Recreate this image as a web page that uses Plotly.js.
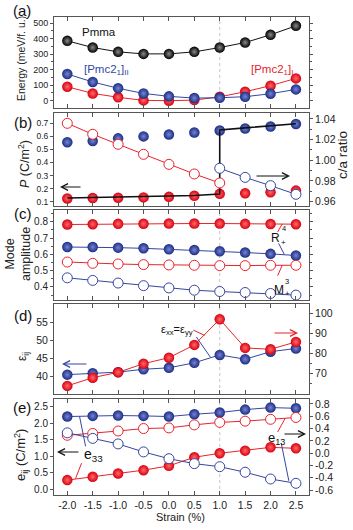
<!DOCTYPE html>
<html><head><meta charset="utf-8">
<script src="https://cdn.plot.ly/plotly-3.0.1.min.js"></script>
<style>html,body{margin:0;padding:0;background:#fff}#chart{width:353px;height:530px}</style>
</head><body><div id="chart"></div>
<script>
// ---------- data ----------
const strain = [-2, -1.5, -1, -0.5, 0, 0.5, 1, 1.5, 2, 2.5];
const strainTickText = ['-2.0','-1.5','-1.0','-0.5','0.0','0.5','1.0','1.5','2.0','2.5'];

// (a) energies (meV/f.u.)
const energyPmma  = [386, 343, 315, 302, 302, 315, 343, 375, 425, 483];
const energyPmcII = [172, 121, 80, 47, 28, 17, 19, 26, 45, 73];
const energyPmcI  = [90, 47, 22, 2, 0, 4, 25, 58, 97, 144];

// (b) polarization (left) and c/a ratio (right)
const polBlue = [0.555, 0.565, 0.585, 0.600, 0.615, 0.630, 0.645, 0.660, 0.675, 0.695];
const polRed  = [0.125, 0.128, 0.130, 0.133, 0.137, 0.145, 0.160, 0.165, 0.172, 0.185];
const caRedStrain  = [-2, -1.5, -1, -0.5, 0, 0.5, 1];
const caRed        = [1.0358, 1.0252, 1.0155, 1.0058, 0.9961, 0.9868, 0.9781];
const caBlueStrain = [1, 1.5, 2, 2.5];
const caBlue       = [0.9923, 0.9835, 0.9755, 0.9671];
const groundStrain = [-2, -1.5, -1, -0.5, 0, 0.5, 1, 1, 1.5, 2, 2.5];
const groundPol    = [0.128, 0.131, 0.134, 0.138, 0.142, 0.147, 0.158, 0.649, 0.665, 0.680, 0.697];

// (c) mode amplitudes
const r4Red   = [0.783, 0.785, 0.787, 0.788, 0.789, 0.789, 0.789, 0.787, 0.786, 0.785];
const r4Blue  = [0.645, 0.645, 0.641, 0.637, 0.631, 0.627, 0.619, 0.611, 0.603, 0.593];
const m3Red   = [0.553, 0.545, 0.541, 0.537, 0.535, 0.533, 0.531, 0.531, 0.533, 0.533];
const m3Blue  = [0.456, 0.440, 0.424, 0.408, 0.394, 0.380, 0.372, 0.366, 0.360, 0.350];

// (d) dielectric constants
const epsBlue = [40.4, 40.8, 41.1, 41.9, 42.3, 43.7, 45.9, 44.7, 46.8, 47.7];
const epsRed  = [63.7, 67.8, 70.5, 74.8, 77.8, 84.2, 97.0, 82.7, 82.0, 85.7];

// (e) piezoelectric coefficients
const e33Blue = [2.20, 2.22, 2.23, 2.22, 2.20, 2.27, 2.32, 2.41, 2.47, 2.45];
const e33Red  = [0.28, 0.38, 0.48, 0.58, 0.71, 0.97, 1.09, 1.17, 1.27, 1.24];
const e13Red  = [0.29, 0.32, 0.36, 0.40, 0.41, 0.46, 0.50, 0.52, 0.55, 0.58];
const e13Blue = [0.33, 0.24, 0.15, 0.02, -0.09, -0.17, -0.22, -0.31, -0.42, -0.49];

// tick labels
const tickA  = [0, 100, 200, 300, 400, 500];
const minorA = [50, 150, 250, 350, 450];
const tickBL = [0.1, 0.2, 0.3, 0.4, 0.5, 0.6, 0.7];
const tickBR = [0.96, 0.98, 1.00, 1.02, 1.04];
const tickBRText = ['0.96','0.98','1.00','1.02','1.04'];
const minorBR = [0.97, 0.99, 1.01, 1.03];
const tickC  = [0.4, 0.5, 0.6, 0.7, 0.8];
const minorC = [0.35, 0.45, 0.55, 0.65, 0.75, 0.85];
const tickDL = [40, 45, 50, 55];
const tickDR = [70, 80, 90, 100];
const minorDR = [65, 75, 85, 95];
const tickEL = [0, 0.5, 1, 1.5, 2, 2.5];
const tickELText = ['0.0','0.5','1.0','1.5','2.0','2.5'];
const tickER = [-0.6, -0.4, -0.2, 0, 0.2, 0.4, 0.6, 0.8];
const tickERText = ['-0.6','-0.4','-0.2','0.0','0.2','0.4','0.6','0.8'];

// ---------- style ----------
const W = 353, H = 530, ML = 54, MR = 44, MT = 13, MB = 35;
const PW = W - ML - MR, PH = H - MT - MB;
const px = x => (x - ML) / PW;
const py = y => (H - MB - y) / PH;
const dom = (top, bot) => [Math.max(0, py(bot)), Math.min(1, py(top))];

const RED = '#e8232b', BLUE = '#34479f', BLACK = '#111';
const FONT = 'Liberation Sans, Arial, sans-serif';
const sphere = (c, hl) => ({size: 10.5, color: c, gradient: {type: 'radial', color: hl}, line: {width: 0}});
const SR = sphere('#d80010', '#ff6a6a');
const SB = sphere('#1c2c85', '#7585d0');
const SK = sphere('#000000', '#8a8a8a');
const open = c => ({size: 10, symbol: 'circle', color: '#fff', line: {color: c, width: 1}});

function tr(x, y, xa, ya, color, marker, mode) {
  return {x, y, xaxis: xa, yaxis: ya, type: 'scatter', mode: mode || 'lines+markers',
          line: {color, width: 1}, marker: marker || {size: 1}, showlegend: false, hoverinfo: 'skip'};
}

const traces = [
  // (a)
  tr(strain, energyPmcI, 'x', 'y', RED, SR),
  tr(strain, energyPmcII, 'x', 'y', BLUE, SB),
  tr(strain, energyPmma, 'x', 'y', BLACK, SK),
  // (b)
  tr(strain, polBlue, 'x2', 'y2', BLUE, SB, 'markers'),
  tr(strain, polRed, 'x2', 'y2', RED, SR, 'markers'),
  Object.assign(tr(groundStrain, groundPol, 'x2', 'y2', BLACK, null, 'lines'), {line: {color: BLACK, width: 1.6}}),
  tr(caRedStrain, caRed, 'x2', 'y3', RED, open(RED)),
  tr(caBlueStrain, caBlue, 'x2', 'y3', BLUE, open(BLUE)),
  // (c)
  tr(strain, r4Red, 'x3', 'y4', RED, SR),
  tr(strain, r4Blue, 'x3', 'y4', BLUE, SB),
  tr(strain, m3Red, 'x3', 'y4', RED, open(RED)),
  tr(strain, m3Blue, 'x3', 'y4', BLUE, open(BLUE)),
  // (d)
  tr(strain, epsBlue, 'x4', 'y5', BLUE, SB),
  tr(strain, epsRed, 'x4', 'y6', RED, SR),
  // (e)
  tr(strain, e33Red, 'x5', 'y7', RED, SR),
  tr(strain, e33Blue, 'x5', 'y7', BLUE, SB),
  tr(strain, e13Red, 'x5', 'y8', RED, open(RED)),
  tr(strain, e13Blue, 'x5', 'y8', BLUE, open(BLUE)),
];

const xRange = [-2.262, 2.757];
const AX = '#555';
function xax(anchor, labels) {
  return {domain: [0, 1], anchor, range: xRange, tickmode: 'array', tickvals: strain, ticktext: strainTickText,
          ticks: 'inside', ticklen: 4, tickcolor: AX, mirror: 'ticks', showline: true, linecolor: AX, linewidth: 1,
          showgrid: false, zeroline: false, showticklabels: labels, tickfont: {size: 10.5, color: '#222', family: FONT}};
}
function yax(domain, range, vals, text, size, extra) {
  return Object.assign({domain, range, anchor: 'x', tickmode: 'array', tickvals: vals, ticktext: text || vals.map(String),
          ticks: 'outside', ticklen: 3, tickcolor: AX, showline: true, linecolor: AX, linewidth: 1, mirror: true,
          showgrid: false, zeroline: false, tickfont: {size: size, color: '#222', family: FONT}}, extra || {});
}
const minorOf = vals => ({tickmode: 'array', tickvals: vals, ticks: 'outside', ticklen: 2, tickcolor: AX});
const dA = dom(16.5, 108), dB = dom(113, 206), dC = dom(210, 300), dD = dom(304, 394), dE = dom(399, 495);

const layout = {
  width: W, height: H, margin: {l: ML, r: MR, t: MT, b: MB},
  paper_bgcolor: '#fff', plot_bgcolor: '#fff', showlegend: false,
  font: {family: FONT, color: '#222'},
  xaxis: xax('y', false), xaxis2: xax('y2', false), xaxis3: xax('y4', false),
  xaxis4: xax('y5', false), xaxis5: xax('y7', true),
  yaxis: yax(dA, [-47, 543], tickA, null, 9, {anchor: 'x', mirror: 'allticks', minor: minorOf(minorA)}),
  yaxis2: yax(dB, [0.067, 0.779], tickBL, null, 8.5, {anchor: 'x2'}),
  yaxis3: yax(dB, [0.9558, 1.0458], tickBR, tickBRText, 10.5, {anchor: 'x2', overlaying: 'y2', side: 'right', mirror: false,
          minor: minorOf(minorBR)}),
  yaxis4: yax(dC, [0.32, 0.872], tickC, null, 10, {anchor: 'x3', mirror: 'allticks', minor: minorOf(minorC)}),
  yaxis5: yax(dD, [35.0, 60.1], tickDL, null, 10.5, {anchor: 'x4'}),
  yaxis6: yax(dD, [59.65, 104.65], tickDR, null, 10.5, {anchor: 'x4', overlaying: 'y5', side: 'right', mirror: false,
          minor: minorOf(minorDR)}),
  yaxis7: yax(dE, [-0.17, 2.73], tickEL, tickELText, 10, {anchor: 'x5'}),
  yaxis8: yax(dE, [-0.68, 0.88], tickER, tickERText, 10.5, {anchor: 'x5', overlaying: 'y7', side: 'right', mirror: false}),
  shapes: [], annotations: []
};

// vertical dotted markers at 1 % strain
[['x', 'y'], ['x3', 'y4'], ['x4', 'y5'], ['x5', 'y7']].forEach(([xa, ya]) => {
  layout.shapes.push({type: 'line', xref: xa, yref: ya + ' domain', x0: 1, x1: 1, y0: 0, y1: 1,
                      line: {color: '#b5b5b5', width: 0.8, dash: 'dot'}, layer: 'below'});
});
// leader lines (data coordinates)
const lead = (xa, ya, x0, y0, x1, y1, c) => layout.shapes.push({type: 'line', xref: xa, yref: ya, x0, y0, x1, y1, line: {color: c, width: 1}});
lead('x3', 'y4', 2.14, 0.737, 2.23, 0.786, RED);
lead('x3', 'y4', 2.16, 0.667, 2.27, 0.600, BLUE);
lead('x3', 'y4', 2.14, 0.469, 2.23, 0.533, RED);
lead('x3', 'y4', 2.16, 0.367, 2.25, 0.352, BLUE);
lead('x4', 'y6', 0.48, 91.6, 0.70, 89.0, RED);
lead('x4', 'y5', 0.54, 50.9, 0.82, 45.2, BLUE);
lead('x5', 'y7', -1.76, 2.21, -1.64, 1.30, BLUE);
lead('x5', 'y7', -1.72, 0.79, -1.84, 0.32, RED);
lead('x5', 'y8', 2.14, 0.344, 2.29, 0.568, RED);
lead('x5', 'y8', 2.21, 0.165, 2.36, -0.45, BLUE);

const ann = (x, y, text, size, color, extra) => layout.annotations.push(Object.assign(
  {xref: 'paper', yref: 'paper', x: px(x), y: py(y), text, showarrow: false, xanchor: 'center', yanchor: 'middle',
   font: {size, color: color || '#111', family: FONT}}, extra || {}));
const arrow = (hx, hy, tx, color) => layout.annotations.push({xref: 'paper', yref: 'paper', x: px(hx), y: py(hy),
   ax: tx - hx, ay: 0, text: '', showarrow: true, arrowhead: 5, arrowsize: 1.3, arrowwidth: 1, arrowcolor: color, standoff: 0});

// panel letters
ann(22, 10, '(a)', 15); ann(23, 123, '(b)', 15); ann(23, 214, '(c)', 15); ann(23, 315, '(d)', 15); ann(22, 407, '(e)', 15);
// axis titles
ann(21, 59, 'Energy (meV/f. u.)', 10.5, '#222', {textangle: -90});
ann(24, 164, '<i>P</i> (C/m<sup>2</sup>)', 12.5, '#222', {textangle: -90});
ann(343, 155, 'c/a ratio', 13.5, '#222', {textangle: -90});
ann(18, 254, 'Mode<br>amplitude', 12.5, '#222', {textangle: -90});
ann(23, 357, 'ε<sub>ij</sub>', 12, '#222', {textangle: -90});
ann(21, 455, 'e<sub>ij</sub> (C/m<sup>2</sup>)', 13, '#222', {textangle: -90});
ann(180, 517, 'Strain (%)', 11, '#222');
// in-plot labels
ann(99, 32, 'Pmma', 11.5, '#111');
ann(106, 70, '[Pmc2<sub>1</sub>]<sub>II</sub>', 11.5, BLUE);
ann(272, 70, '[Pmc2<sub>1</sub>]<sub>I</sub>', 11.5, RED);
ann(275, 237.5, 'R', 12); ann(283.5, 229, '4', 7.5); ann(283.5, 243, '+', 8);
ann(279, 290, 'M', 12); ann(287, 281, '3', 7.5); ann(287, 294, '+', 8);
ann(177, 330, 'ε<sub>xx</sub>=ε<sub>yy</sub>', 11, '#111');
ann(82, 455, 'e<sub>33</sub>', 14, '#111', {xanchor: 'left'});
ann(266, 438, 'e<sub>13</sub>', 13, '#111', {xanchor: 'left'});
// arrows
arrow(60, 187, 82, '#111');
arrow(290, 176, 255, '#111');
arrow(62, 364, 88, BLUE);
arrow(298, 333, 273, RED);
arrow(57, 452, 80, '#111');
arrow(306, 434, 283, '#111');

Plotly.newPlot('chart', traces, layout, {staticPlot: true, displayModeBar: false});
</script></body></html>
